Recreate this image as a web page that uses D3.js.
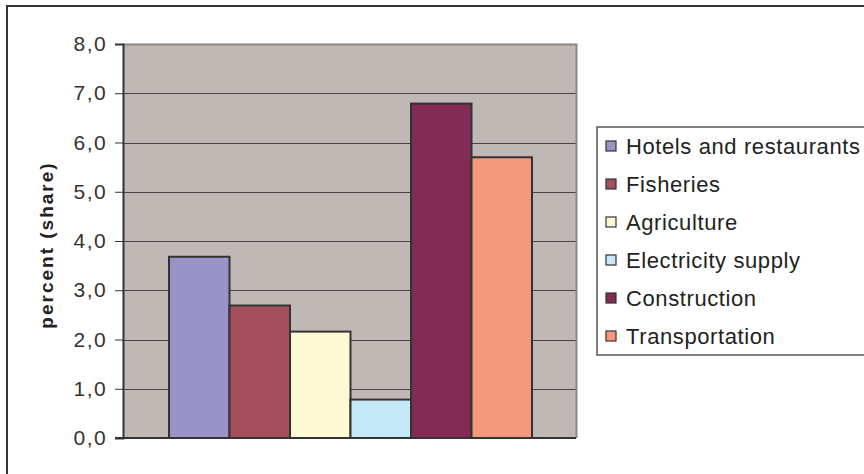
<!DOCTYPE html>
<html><head><meta charset="utf-8">
<script src="https://cdn.jsdelivr.net/npm/d3@7"></script>
<style>body{margin:0;background:#fff;}svg{display:block;font-family:"Liberation Sans",Arial,sans-serif;}</style>
</head><body>
<script>
const categories = ["Hotels and restaurants","Fisheries","Agriculture","Electricity supply","Construction","Transportation"];
const values = [3.68, 2.69, 2.16, 0.78, 6.79, 5.70];
const colors = ["#9A93C8","#A4505C","#FEF9D4","#C6E9F8","#812B55","#F4997B"];
const yTicks = [0,1,2,3,4,5,6,7,8];
const yTitle = "percent (share)";

const W = 864, H = 474;
const svg = d3.select("body").append("svg").attr("width", W).attr("height", H);

// outer chart border
svg.append("rect").attr("x",7).attr("y",6).attr("width",W+20).attr("height",H+20)
  .attr("fill","#fff").attr("stroke","#333").attr("stroke-width",2);

const plot = {l:123, t:44, r:576, b:438};
const y = d3.scaleLinear().domain([0,8]).range([plot.b, plot.t]);
const x = d3.scaleBand().domain(categories).range([plot.l+46, plot.l+46+363]).padding(0);

// plot background
svg.append("rect").attr("x",plot.l).attr("y",plot.t).attr("width",plot.r-plot.l).attr("height",plot.b-plot.t)
  .attr("fill","#C0B8B5");

// gridlines
svg.append("g").selectAll("line").data(yTicks.filter(d=>d>0)).join("line")
  .attr("x1",plot.l).attr("x2",plot.r)
  .attr("y1",d=>Math.round(y(d))+0.5).attr("y2",d=>Math.round(y(d))+0.5)
  .attr("stroke","#4a4446").attr("stroke-width",1);

// plot area border (right/top gray)
svg.append("path")
  .attr("d",`M${plot.l},${plot.t+0.5}H${plot.r+0.5}V${plot.b}`)
  .attr("fill","none").attr("stroke","#8E8485").attr("stroke-width",2);

// bars
svg.append("g").selectAll("rect").data(categories).join("rect")
  .attr("x",d=>x(d)).attr("width",x.bandwidth())
  .attr("y",(d,i)=>y(values[i])).attr("height",(d,i)=>plot.b-y(values[i]))
  .attr("fill",(d,i)=>colors[i]).attr("stroke","#333").attr("stroke-width",2);

// y axis
const yAxis = d3.axisLeft(y).tickValues(yTicks).tickSize(8).tickPadding(8)
  .tickFormat(d=>d3.format(".1f")(d).replace(".",","));
const ag = svg.append("g").attr("transform",`translate(${plot.l},0)`).call(yAxis);
ag.select(".domain").attr("stroke","#333").attr("stroke-width",2);
ag.selectAll(".tick line").attr("stroke","#333");
ag.selectAll(".tick text").attr("font-size",21).attr("letter-spacing","1.4px").attr("fill","#333")
  .attr("font-family","'Liberation Sans',Arial,sans-serif");

// x baseline
svg.append("line").attr("x1",plot.l-8).attr("x2",plot.r).attr("y1",plot.b).attr("y2",plot.b)
  .attr("stroke","#333").attr("stroke-width",2);

// y title
svg.append("text").attr("transform",`translate(53,245) rotate(-90)`)
  .attr("text-anchor","middle").attr("font-size",19).attr("letter-spacing","2px")
  .attr("font-weight","bold").attr("fill","#222")
  .text(yTitle);

// legend
const lg = svg.append("g");
lg.append("rect").attr("x",597).attr("y",127).attr("width",300).attr("height",228)
  .attr("fill","#fff").attr("stroke","#555").attr("stroke-width",1.5);
const rows = lg.selectAll("g.row").data(categories).join("g").attr("class","row")
  .attr("transform",(d,i)=>`translate(606,${146+i*38})`);
rows.append("rect").attr("x",0).attr("y",-5).attr("width",10).attr("height",10)
  .attr("fill",(d,i)=>colors[i]).attr("stroke","#333").attr("stroke-width",1.2);
rows.append("text").attr("x",20).attr("y",0).attr("dy","0.36em").attr("font-size",22)
  .attr("letter-spacing","0.6px").attr("fill","#222")
  .text(d=>d);
</script>
</body></html>
